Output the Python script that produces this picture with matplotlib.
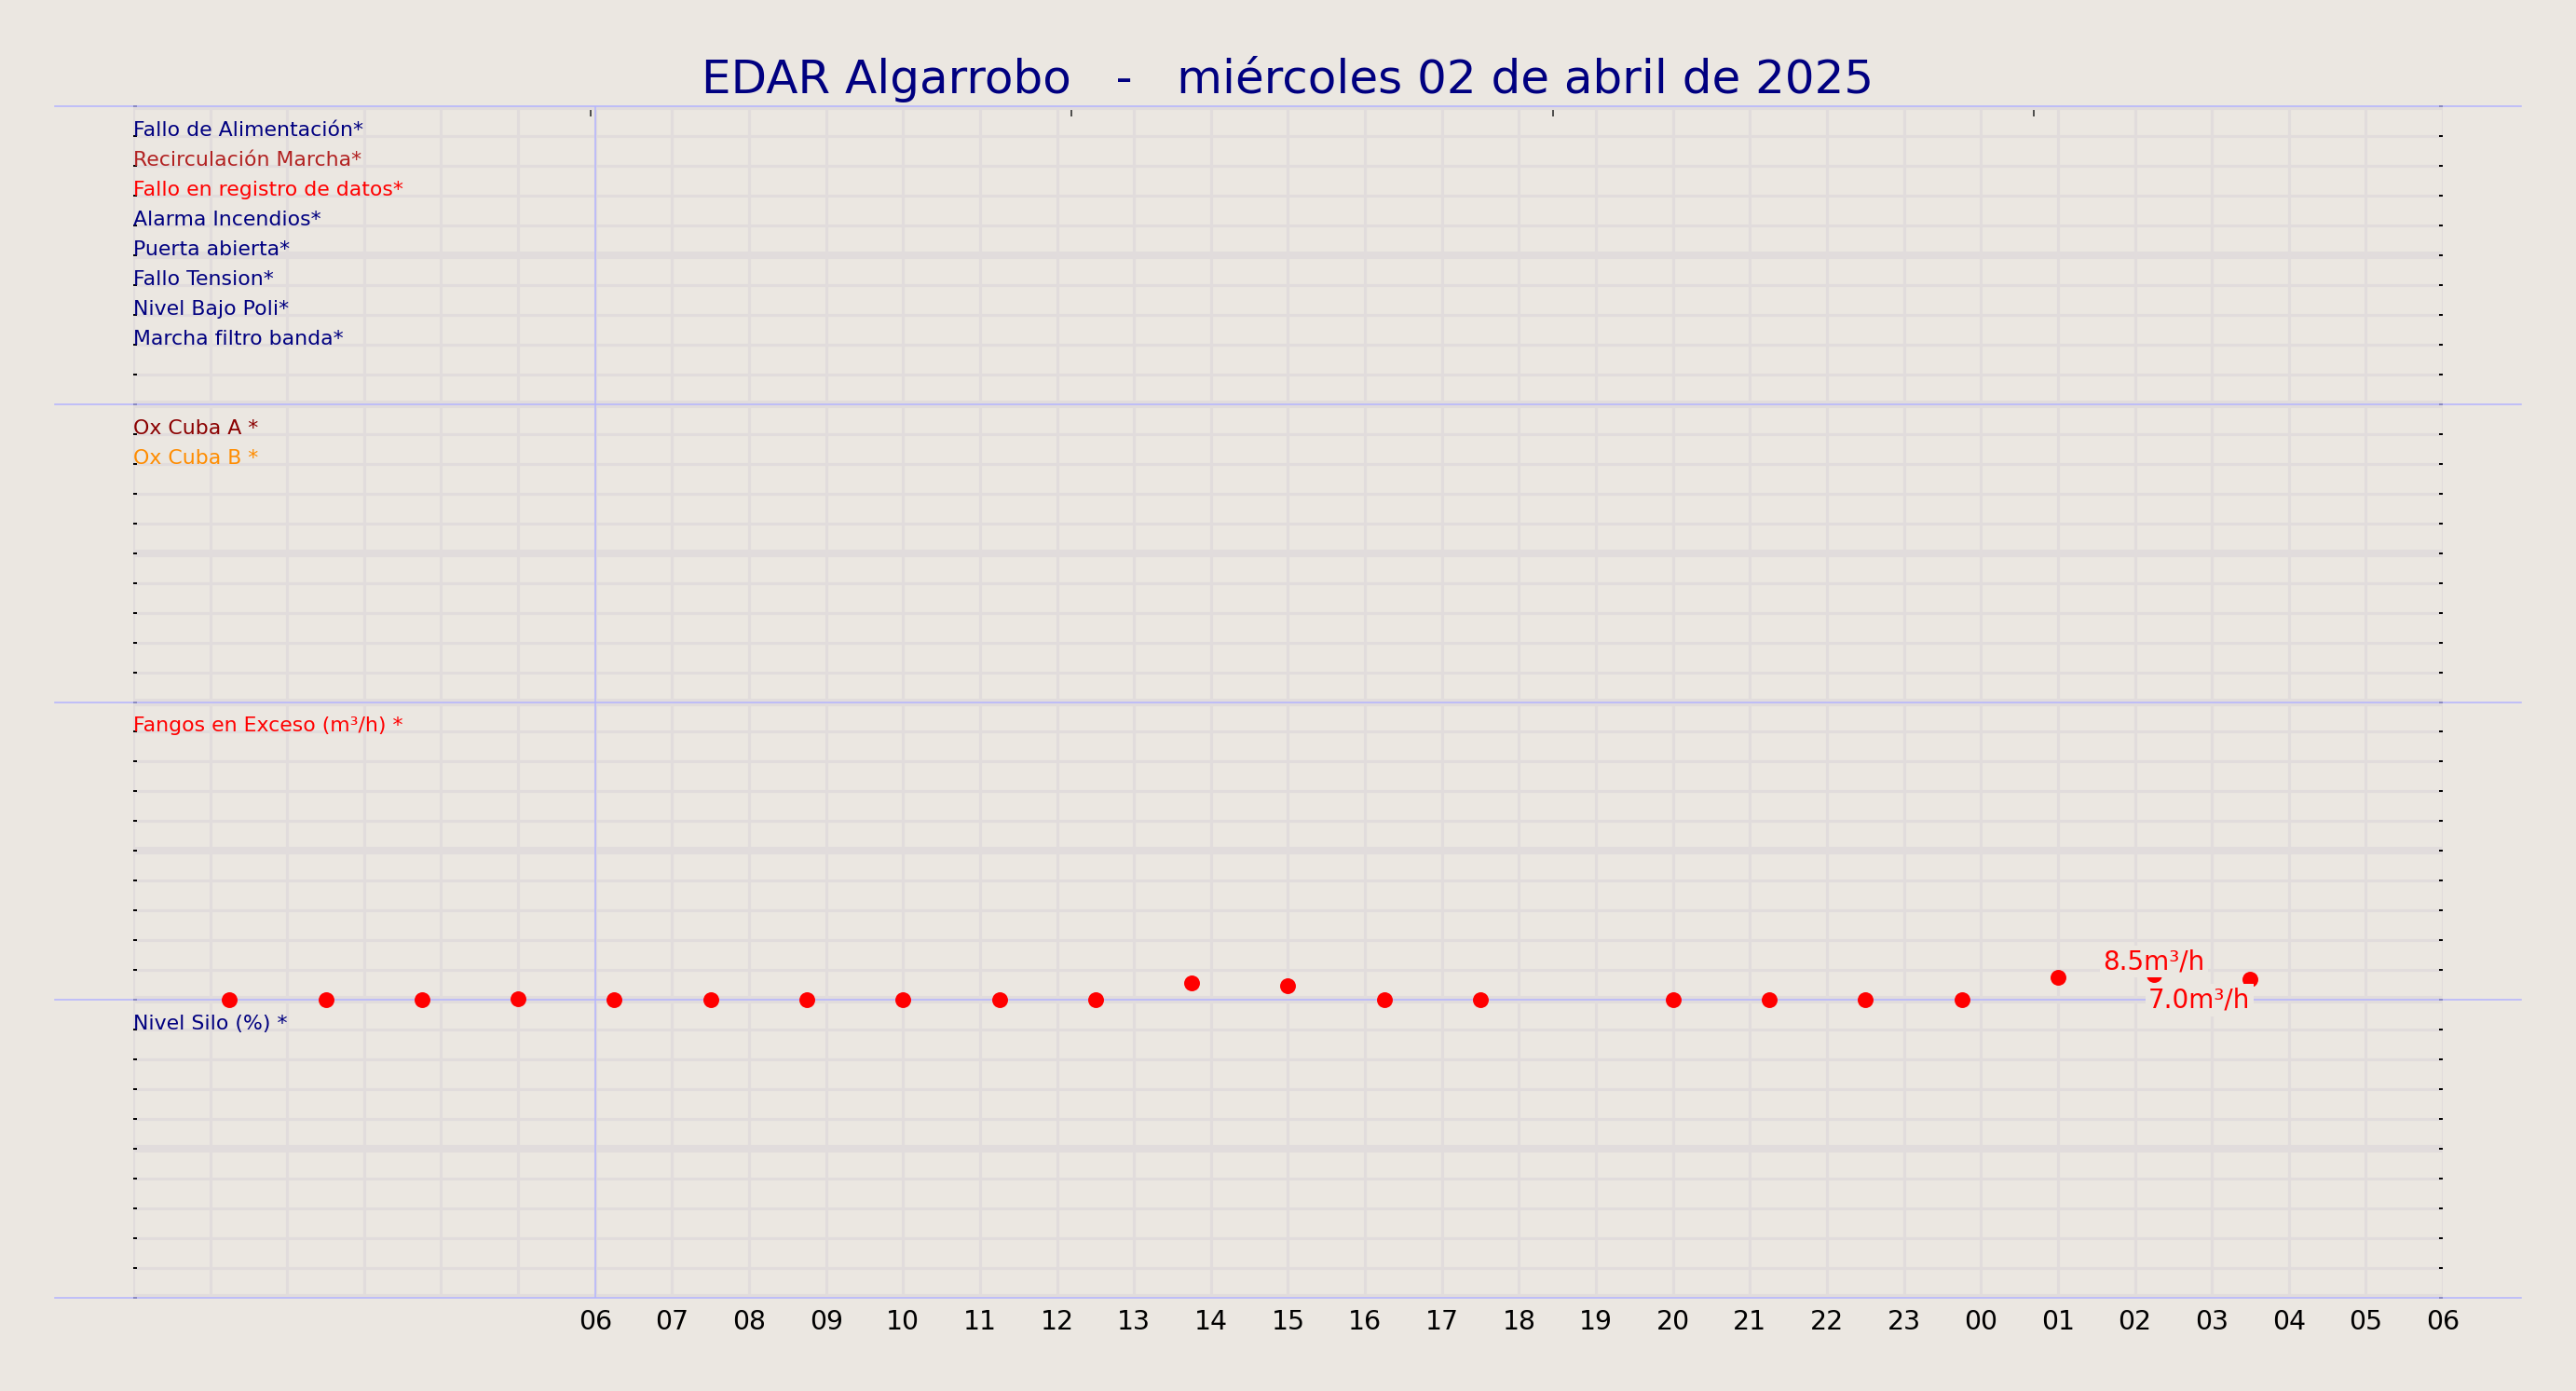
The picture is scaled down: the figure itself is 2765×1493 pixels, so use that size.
import matplotlib
matplotlib.use('Agg')
import matplotlib.pyplot as plt
from matplotlib.ticker import FixedLocator, MultipleLocator

# Colores
fondo = '#ebe7e1'
rejilla = '#e1dcdc'
azul = '#b4b4ff'

titulo = 'EDAR Algarrobo   -   miércoles 02 de abril de 2025'

# Bandas del grafico (de arriba a abajo)
alarmas = ['Fallo de Alimentación*', 'Recirculación Marcha*', 'Fallo en registro de datos*',
           'Alarma Incendios*', 'Puerta abierta*', 'Fallo Tension*', 'Nivel Bajo Poli*',
           'Marcha filtro banda*']
colores_alarmas = ['navy', 'firebrick', 'red', 'navy', 'navy', 'navy', 'navy', 'navy']

oxigeno = ['Ox Cuba A *', 'Ox Cuba B *']
colores_oxigeno = ['darkred', 'darkorange']

etiqueta_fangos = 'Fangos en Exceso (m³/h) *'
etiqueta_silo = 'Nivel Silo (%) *'

# Fangos en exceso (horas desde 00:00 del 02/04, valores en m3/h)
horas_fangos = [1.25, 2.5, 3.75, 5.0, 6.25, 7.5, 8.75, 10.0, 11.25, 12.5, 13.75,
                15.0, 16.25, 17.5, 20.0, 21.25, 22.5, 23.75, 25.0, 26.25, 27.5]
fangos = [0, 0, 0, 0.3, 0, 0, 0, 0, 0, 0, 5.6,
          4.9, 0, 0, 0, 0, 0, 0, 7.7, 8.5, 7.0]

# Eje de tiempo
horas_eje = list(range(0, 31))
etiquetas_eje = ['', '', '', '', '', '',
                 '06', '07', '08', '09', '10', '11', '12', '13', '14', '15', '16', '17',
                 '18', '19', '20', '21', '22', '23', '00', '01', '02', '03', '04', '05', '06']
marcas_sup = [5.94, 12.19, 18.44, 24.69]
hora_inicio = 6

fig = plt.figure(figsize=(27.65, 14.93), dpi=100, facecolor=fondo)
ax = fig.add_axes([0.0517, 0.0670, 0.8966, 0.8566], facecolor=fondo)
ax.set_xlim(0, 30)
ax.set_ylim(0, 40)
for s in ax.spines.values():
    s.set_visible(False)

ax.xaxis.set_major_locator(FixedLocator(horas_eje))
ax.set_xticklabels(etiquetas_eje)
ax.xaxis.set_minor_locator(FixedLocator(marcas_sup))
ax.yaxis.set_major_locator(MultipleLocator(5))
ax.yaxis.set_minor_locator(MultipleLocator(1))

ax.tick_params(axis='x', which='major', length=0, labelsize=20.4, pad=8.5, colors='black')
ax.tick_params(axis='x', which='minor', top=True, bottom=False, direction='in',
               length=7.9, width=1.1, color='#222222')
ax.tick_params(axis='y', which='both', left=True, right=True, direction='in',
               length=2.9, width=1.4, labelleft=False, color='black')

ax.set_axisbelow(True)
ax.yaxis.grid(True, which='major', color=rejilla, lw=5.8)
ax.yaxis.grid(True, which='minor', color=rejilla, lw=2.2)
ax.xaxis.grid(True, which='major', color=rejilla, lw=2.2)

# Separadores de bandas
for y in [0, 10, 20, 30, 40]:
    ax.axhline(y, xmin=-0.034, xmax=1.034, clip_on=False, color=azul, lw=1.1, zorder=2)
ax.axvline(hora_inicio, color=azul, lw=1.1, zorder=2)

trans = ax.get_yaxis_transform()

# Etiquetas de alarmas
for i, (txt, c) in enumerate(zip(alarmas, colores_alarmas)):
    ax.text(0, 39 - i, txt, transform=trans, ha='left', va='baseline',
            fontsize=15.8, color=c, zorder=4)
for i, (txt, c) in enumerate(zip(oxigeno, colores_oxigeno)):
    ax.text(0, 29 - i, txt, transform=trans, ha='left', va='baseline',
            fontsize=15.8, color=c, zorder=4)
ax.text(0, 19, etiqueta_fangos, transform=trans, ha='left', va='baseline',
        fontsize=15.8, color='red', zorder=4)
ax.text(0, 9, etiqueta_silo, transform=trans, ha='left', va='baseline',
        fontsize=15.8, color='navy', zorder=4)

# Puntos de fangos
base_fangos = 10
y_fangos = [base_fangos + v / 10 for v in fangos]
ax.plot(horas_fangos, y_fangos, 'o', color='red', ms=12.2, mew=0, zorder=3)

# Valor maximo y ultimo valor
i_max = fangos.index(max(fangos))
caja = dict(facecolor=fondo, edgecolor='none', boxstyle='square,pad=0.12')
ax.text(horas_fangos[i_max], y_fangos[i_max], f'{fangos[i_max]:.1f}m³/h',
        ha='center', va='bottom', fontsize=20, color='red', bbox=caja, zorder=5)
ax.text(horas_fangos[-1], base_fangos, f'{fangos[-1]:.1f}m³/h',
        ha='right', va='center', fontsize=20, color='red', bbox=caja, zorder=5)

fig.text(0.5, 1 - 100 / 1493, titulo, ha='center', va='baseline', fontsize=36, color='navy')

fig.savefig('out.png', dpi=100, facecolor=fondo)
